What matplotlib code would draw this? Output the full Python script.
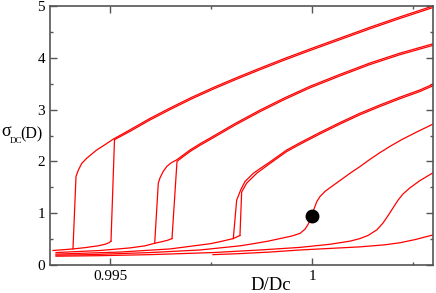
import numpy as np
import matplotlib
matplotlib.use('Agg')
import matplotlib.pyplot as plt
from matplotlib.ticker import MultipleLocator

plt.rcParams['font.family'] = ['Liberation Serif', 'DejaVu Serif']

# pair 1 (leftmost hysteresis loop)
low1_x = [0.993574, 0.993822, 0.994070, 0.994368, 0.994690, 0.994864, 0.994963, 0.995013]
low1_y = [0.28, 0.295, 0.31, 0.335, 0.37, 0.40, 0.43, 0.46]
up1a_x = [0.994070, 0.994145, 0.994202, 0.994286, 0.994410, 0.994517, 0.994658, 0.994839, 0.995070,
          0.995484, 0.995980, 0.996476, 0.997022, 0.997592, 0.998138, 0.998708, 0.999328, 0.999948,
          1.000692, 1.001437, 1.002181, 1.003]
up1a_y = [0.31, 1.71, 1.83, 1.96, 2.06, 2.13, 2.22, 2.31, 2.43,
          2.61, 2.83, 3.03, 3.24, 3.44, 3.62, 3.80, 3.99, 4.17,
          4.38, 4.59, 4.79, 5.00]
up1b_x = [0.995013, 0.995100, 0.995484, 0.995980, 0.996476, 0.997022, 0.997592, 0.998138, 0.998708,
          0.999328, 0.999948, 1.000692, 1.001437, 1.002181, 1.003]
up1b_y = [0.46, 2.42, 2.58, 2.80, 3.00, 3.21, 3.41, 3.59, 3.77,
          3.96, 4.14, 4.35, 4.56, 4.76, 4.97]

# pair 2
low2_x = [0.993649, 0.994740, 0.995484, 0.995856, 0.996097, 0.996278, 0.996427, 0.996526]
low2_y = [0.24, 0.28, 0.33, 0.37, 0.42, 0.45, 0.48, 0.51]
up2a_x = [0.996097, 0.996186, 0.996228, 0.996303, 0.996394, 0.996501, 0.996642, 0.996799, 0.996972,
          0.997220, 0.997468, 0.998088, 0.998708, 0.999328, 0.999948, 1.000692, 1.001437, 1.002181, 1.003]
up2a_y = [0.42, 1.58, 1.68, 1.80, 1.90, 1.97, 2.03, 2.12, 2.22,
          2.34, 2.45, 2.73, 2.99, 3.23, 3.45, 3.68, 3.90, 4.09, 4.27]
up2b_x = [0.996526, 0.996650, 0.996799, 0.996972, 0.997220, 0.997468, 0.998088, 0.998708, 0.999328,
          0.999948, 1.000692, 1.001437, 1.002181, 1.003]
up2b_y = [0.51, 2.00, 2.09, 2.19, 2.31, 2.42, 2.70, 2.96, 3.20,
          3.42, 3.65, 3.87, 4.06, 4.24]

# pair 3
low3_x = [0.993649, 0.995236, 0.996476, 0.997468, 0.997716, 0.998046, 0.998212]
low3_y = [0.21, 0.25, 0.31, 0.41, 0.45, 0.51, 0.57]
up3a_x = [0.998046, 0.998130, 0.998230, 0.998336, 0.998542, 0.998708, 0.998956, 0.999371, 0.999700,
          1.000196, 1.000692, 1.001188, 1.001685, 1.002181, 1.002677, 1.003]
up3a_y = [0.51, 1.25, 1.45, 1.61, 1.77, 1.86, 1.99, 2.22, 2.36,
          2.56, 2.75, 2.93, 3.09, 3.24, 3.38, 3.49]
up3b_x = [0.998212, 0.998254, 0.998378, 0.998626, 0.998956, 0.999371, 0.999700, 1.000196, 1.000692,
          1.001188, 1.001685, 1.002181, 1.002677, 1.003]
up3b_y = [0.57, 1.41, 1.58, 1.77, 1.96, 2.19, 2.33, 2.53, 2.72,
          2.90, 3.06, 3.21, 3.35, 3.46]

# critical curve
crit_x = [0.993649, 0.994492, 0.995236, 0.995980, 0.996476, 0.997220, 0.997716, 0.998212, 0.998535,
          0.998907, 0.999204, 0.999502, 0.999700, 0.999824, 0.999899, 0.999948, 1.000000, 1.000048,
          1.000115, 1.000196, 1.000320, 1.000494, 1.000692, 1.000940, 1.001188, 1.001437, 1.001685,
          1.001933, 1.002223, 1.002602, 1.003]
crit_y = [0.19, 0.20, 0.22, 0.24, 0.26, 0.29, 0.33, 0.37, 0.41,
          0.46, 0.51, 0.56, 0.61, 0.69, 0.78, 0.86, 0.95, 1.08,
          1.22, 1.32, 1.42, 1.52, 1.63, 1.77, 1.90, 2.04, 2.17,
          2.29, 2.42, 2.57, 2.72]

# above critical
c5_x = [0.993649, 0.994740, 0.995980, 0.997543, 0.998708, 0.999700, 1.000444, 1.000940, 1.001188,
        1.001387, 1.001610, 1.001759, 1.001883, 1.002007, 1.002131, 1.002255, 1.002429, 1.002677, 1.003]
c5_y = [0.17, 0.18, 0.20, 0.24, 0.29, 0.34, 0.40, 0.46, 0.51,
        0.57, 0.68, 0.81, 0.95, 1.10, 1.25, 1.37, 1.49, 1.63, 1.78]
c6_x = [0.997543, 0.998212, 0.998956, 0.999700, 1.000444, 1.001188, 1.001809, 1.002181, 1.002553, 1.003]
c6_y = [0.20, 0.22, 0.25, 0.29, 0.32, 0.35, 0.39, 0.43, 0.49, 0.58]

crit_pt = (1.0, 0.95)

fig = plt.figure(figsize=(4.36, 2.93), dpi=100)
ax = fig.add_axes([50/436, 28/293, 383/436, 259/293])

curves = [(low1_x, low1_y), (up1a_x, up1a_y), (up1b_x, up1b_y),
          (low2_x, low2_y), (up2a_x, up2a_y), (up2b_x, up2b_y),
          (low3_x, low3_y), (up3a_x, up3a_y), (up3b_x, up3b_y),
          (crit_x, crit_y), (c5_x, c5_y), (c6_x, c6_y)]
for cx, cy in curves:
    ax.plot(cx, cy, color='#ff0000', lw=0.9)

ax.plot([crit_pt[0]], [crit_pt[1]], 'o', color='black', ms=9, zorder=5)

ax.set_xlim(0.9935, 1.003)
ax.set_ylim(0, 5)
ax.xaxis.set_minor_locator(MultipleLocator(0.0025))
ax.yaxis.set_major_locator(MultipleLocator(1))
ax.yaxis.set_minor_locator(MultipleLocator(0.5))
ax.set_xticks([0.995, 1.0])
ax.set_xticklabels(['0.995', '1'])

ax.tick_params(which='both', direction='in', top=True, right=True,
               color='#555555', labelsize=11, pad=3.5)
ax.tick_params(which='major', length=5, width=1)
ax.tick_params(which='minor', length=2.5, width=1)
for s in ax.spines.values():
    s.set_color('#555555')
    s.set_linewidth(1.2)

fig.text(271/436, 1 - 285/293, 'D/Dc', ha='center', va='center', fontsize=13.5)
# y label: sigma with small "DC" subscript
fig.text(1/436, 1 - 132/293, 'σ', ha='left', va='center', fontsize=13)
fig.text(9.5/436, 1 - 141/293, 'DC', ha='left', va='center', fontsize=6.5)
fig.text(20.5/436, 1 - 134/293, '(D)', ha='left', va='center', fontsize=11.5)

fig.savefig('out.png', dpi=100)
